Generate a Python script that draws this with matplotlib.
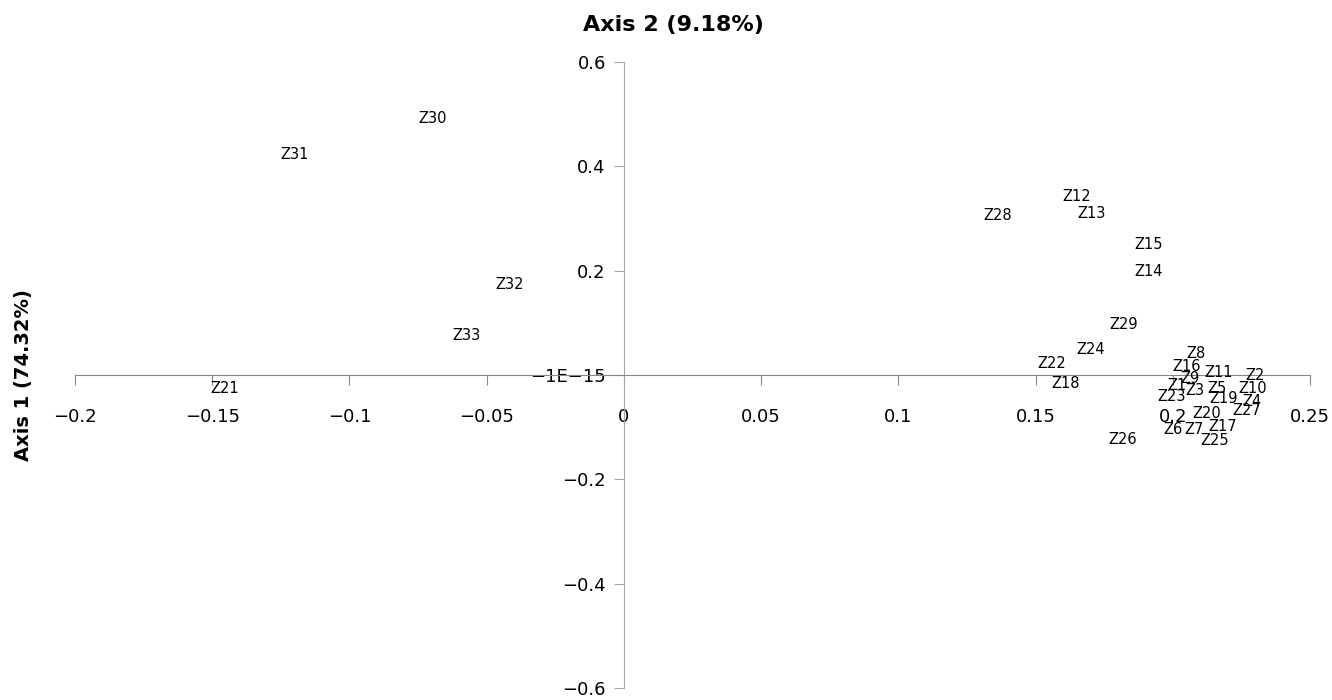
import matplotlib
matplotlib.use("Agg")
import matplotlib.pyplot as plt

# observation labels and their coordinates on the two axes
names = ["Z30", "Z31", "Z32", "Z33", "Z21", "Z28", "Z12", "Z13", "Z15", "Z14",
         "Z29", "Z24", "Z22", "Z18", "Z26", "Z8", "Z16", "Z11", "Z2", "Z9",
         "Z1", "Z3", "Z23", "Z5", "Z10", "Z19", "Z4", "Z20", "Z27", "Z6",
         "Z7", "Z17", "Z25"]
ax1 = [-0.0696, -0.1199, -0.0415, -0.0572, -0.1454, 0.1363, 0.1651, 0.1705, 0.1913, 0.1913,
       0.1822, 0.1702, 0.1560, 0.1611, 0.1818, 0.2084, 0.2051, 0.2168, 0.2299, 0.2062,
       0.2015, 0.2081, 0.1997, 0.2161, 0.2292, 0.2186, 0.2288, 0.2124, 0.2270, 0.2000,
       0.2077, 0.2183, 0.2153]
ax2 = [0.491, 0.422, 0.174, 0.075, -0.025, 0.305, 0.343, 0.309, 0.251, 0.199,
       0.096, 0.048, 0.023, -0.017, -0.123, 0.042, 0.017, 0.004, 0.000, -0.006,
       -0.021, -0.030, -0.042, -0.025, -0.025, -0.046, -0.050, -0.073, -0.069, -0.105,
       -0.105, -0.098, -0.125]

xticks = [-0.2, -0.15, -0.1, -0.05, 0, 0.05, 0.1, 0.15, 0.2, 0.25]
xtick_labels = ["\u22120.2", "\u22120.15", "\u22120.1", "\u22120.05", "0",
                "0.05", "0.1", "0.15", "0.2", "0.25"]
yticks = [-0.6, -0.4, -0.2, 0, 0.2, 0.4, 0.6]
ytick_labels = ["\u22120.6", "\u22120.4", "\u22120.2", "\u22121E\u221215", "0.2", "0.4", "0.6"]

fig = plt.figure(figsize=(13.32, 7), dpi=100)
ax = fig.add_axes([75 / 1332, 12 / 700, 1235 / 1332, 626 / 700])

for n, x, y in zip(names, ax1, ax2):
    ax.text(x, y, n, ha="center", va="center", fontsize=10.5, color="black")

ax.set_xlim(-0.2, 0.25)
ax.set_ylim(-0.6, 0.6)
ax.spines["left"].set_position(("data", 0))
ax.spines["bottom"].set_position(("data", 0))
ax.spines["top"].set_visible(False)
ax.spines["right"].set_visible(False)
ax.spines["left"].set_color("#a6a6a6")
ax.spines["bottom"].set_color("#868686")
ax.set_xticks(xticks)
ax.set_xticklabels(xtick_labels)
ax.set_yticks(yticks)
ax.set_yticklabels(ytick_labels)
ax.tick_params(axis="x", colors="#868686", labelcolor="black", labelsize=13, length=7, pad=17)
ax.tick_params(axis="y", colors="#a6a6a6", labelcolor="black", labelsize=13, length=7, pad=6)

fig.text(673 / 1332, 1 - 25 / 700, "Axis 2 (9.18%)", ha="center", va="center",
         fontsize=16, fontweight="bold")
fig.text(24 / 1332, 1 - 375 / 700, "Axis 1 (74.32%)", ha="center", va="center",
         rotation=90, fontsize=14, fontweight="bold")

fig.savefig("out.png", dpi=100)
